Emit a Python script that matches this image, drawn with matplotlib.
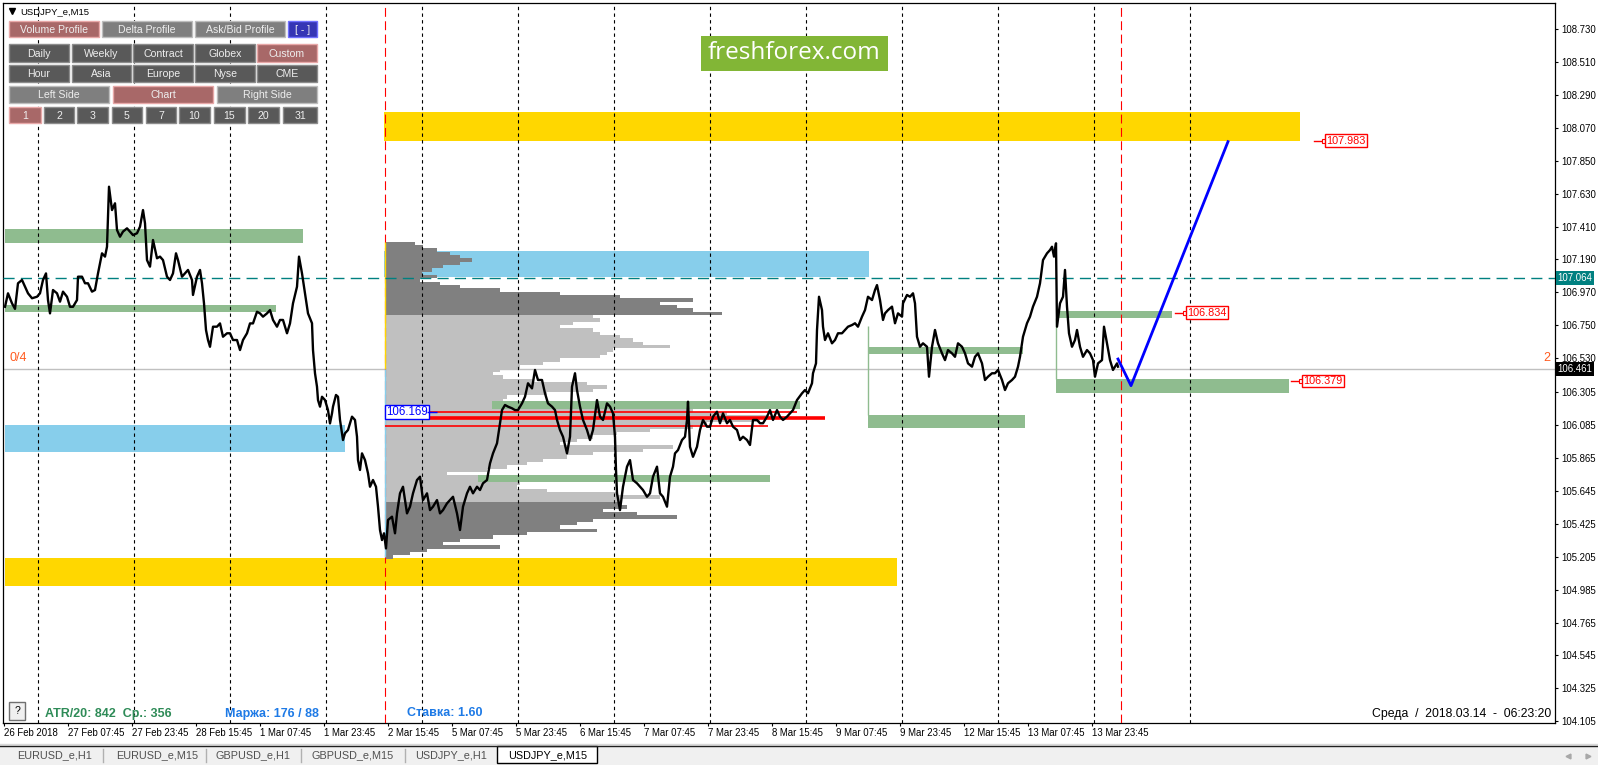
import numpy as np
import matplotlib.pyplot as plt
from matplotlib.patches import Rectangle

plt.rcParams['font.family'] = ['Liberation Sans', 'DejaVu Sans']

# bar index: 0 = 26 Feb 15:45, one M15 bar per step
bars_a = [1, 4, 8, 11, 14, 18, 21, 24, 28, 33, 36, 39, 42, 44, 46, 49, 53, 56, 59, 63,
          66, 69, 73, 74, 78, 81, 84, 88, 91, 94, 98, 101, 103, 105, 108, 111, 113, 116, 119, 123,
          126, 129, 133, 136, 139, 141, 143, 146, 149, 153, 156, 159, 163, 166, 169, 172, 174, 178, 181, 184,
          188, 189, 193, 196, 198, 200, 202, 204, 206, 209, 213, 216, 219, 223, 226, 229, 233, 236, 239, 243,
          246, 249, 253, 256, 259, 263, 266, 269, 273, 276, 279, 283, 286, 289, 293, 295, 298, 301, 304]
price_a = [106.874, 106.964, 106.897, 106.860, 107.031, 107.053, 107.008, 106.964, 106.931, 106.941,
           106.964, 107.053, 107.097, 106.919, 106.830, 106.986, 106.964, 106.908, 106.975, 106.941,
           106.874, 106.874, 106.919, 107.075, 107.075, 107.031, 107.031, 106.975, 106.986, 107.097,
           107.231, 107.209, 107.275, 107.676, 107.520, 107.565, 107.387, 107.342, 107.376, 107.398,
           107.376, 107.353, 107.365, 107.409, 107.520, 107.432, 107.186, 107.142, 107.320, 107.198,
           107.209, 107.186, 107.075, 107.053, 107.097, 107.231, 107.186, 107.075, 107.097, 107.120,
           107.053, 106.953, 107.075, 107.120, 107.031, 106.897, 106.719, 106.652, 106.607, 106.741,
           106.741, 106.763, 106.674, 106.697, 106.697, 106.652, 106.652, 106.585, 106.652, 106.697,
           106.763, 106.763, 106.841, 106.830, 106.808, 106.830, 106.852, 106.786, 106.741, 106.786,
           106.786, 106.697, 106.763, 106.897, 107.008, 107.209, 107.097, 106.964, 106.830]

bars_b = [308, 309, 311, 313, 314, 316, 318, 321, 324, 326, 328, 329, 332, 334, 336, 339, 341, 344, 348, 351,
          353, 354, 356, 358, 361, 364, 366, 369, 372, 374, 376, 378, 380, 382, 384, 388, 391, 393, 396, 399,
          403, 406, 409, 413, 416, 419, 423, 426, 429, 433, 436, 439, 443, 446, 449, 453, 456, 459, 463, 466,
          469, 473, 476, 479, 483]
price_b = [106.764, 106.585, 106.430, 106.340, 106.251, 106.207, 106.273, 106.251, 106.184, 106.095,
           106.162, 106.207, 106.285, 106.273, 106.118, 105.984, 106.029, 106.051, 106.140, 106.118,
           106.006, 105.850, 105.784, 105.895, 105.850, 105.762, 105.672, 105.717, 105.672, 105.539,
           105.383, 105.316, 105.361, 105.260, 105.450, 105.472, 105.361, 105.494, 105.628, 105.672,
           105.494, 105.539, 105.628, 105.717, 105.739, 105.583, 105.628, 105.516, 105.539, 105.583,
           105.494, 105.516, 105.561, 105.583, 105.605, 105.494, 105.383, 105.539, 105.628, 105.672,
           105.628, 105.672, 105.650, 105.695, 105.717]

bars_c = [486, 489, 493, 495, 498, 501, 504, 508, 511, 514, 518, 521, 524, 528, 531, 534, 538, 541, 544, 548,
          551, 553, 556, 559, 563, 566, 568, 571, 573, 576, 579, 583, 586, 589, 593, 596, 599, 603, 606, 609,
          611, 612, 613, 616, 619, 623, 626, 629, 633, 636, 639, 643, 646, 649, 653, 656, 659, 663, 666, 669,
          671, 674, 678, 681, 683, 684, 686, 689, 693, 696, 699, 703, 706, 709, 713, 716, 719, 723, 726, 729,
          733, 736, 739, 743, 746, 749, 753, 756, 759, 763, 766, 769, 773, 776, 779, 783, 786, 789, 793]
price_c = [105.828, 105.895, 105.962, 106.051, 106.184, 106.218, 106.207, 106.196, 106.184, 106.184,
           106.229, 106.273, 106.363, 106.329, 106.452, 106.385, 106.385, 106.296, 106.229, 106.207,
           106.184, 106.118, 106.051, 106.006, 105.895, 106.006, 106.340, 106.430, 106.318, 106.207,
           106.118, 106.051, 105.984, 106.051, 106.251, 106.140, 106.118, 106.229, 106.207, 106.162,
           106.006, 105.784, 105.628, 105.516, 105.672, 105.806, 105.850, 105.717, 105.695, 105.672,
           105.650, 105.605, 105.628, 105.739, 105.806, 105.628, 105.605, 105.539, 105.739, 105.806,
           105.895, 105.917, 105.984, 106.006, 106.118, 106.240, 105.939, 105.872, 105.939, 106.051,
           106.118, 106.073, 106.073, 106.140, 106.173, 106.096, 106.162, 106.096, 106.118, 106.073,
           106.051, 105.984, 106.006, 105.984, 105.951, 106.118, 106.118, 106.096, 106.096, 106.140,
           106.184, 106.118, 106.184, 106.140, 106.118, 106.140, 106.162, 106.184, 106.251]

bars_d = [798, 801, 804, 808, 809, 812, 813, 815, 818, 819, 821, 824, 828, 831, 834, 838, 841, 844, 848, 851,
          854, 858, 861, 864, 868, 871, 873, 876, 879, 881, 884, 888, 891, 894, 898, 899, 903, 906, 909, 911,
          913, 916, 919, 923, 925, 928, 931, 934, 938, 941, 944, 948, 951, 954, 958, 961, 964, 968, 971, 974,
          978, 981, 984, 988, 991, 994, 998, 1001, 1004, 1008, 1011, 1014, 1016, 1019, 1023, 1026, 1029, 1033,
          1036, 1039, 1043, 1046, 1048, 1050, 1052, 1053, 1056, 1059, 1061, 1063, 1065, 1068, 1071, 1073, 1076,
          1079, 1083, 1086, 1089, 1091, 1094, 1098, 1100, 1103, 1106, 1109, 1113, 1114]
price_d = [106.296, 106.318, 106.296, 106.363, 106.430, 106.496, 106.719, 106.941, 106.852, 106.741,
           106.652, 106.697, 106.630, 106.652, 106.697, 106.697, 106.719, 106.741, 106.752, 106.764,
           106.741, 106.808, 106.852, 106.941, 106.919, 106.986, 107.019, 106.919, 106.786, 106.830,
           106.852, 106.875, 106.764, 106.830, 106.808, 106.897, 106.953, 106.941, 106.964, 106.897,
           106.674, 106.607, 106.630, 106.607, 106.407, 106.607, 106.719, 106.630, 106.563, 106.518,
           106.585, 106.563, 106.540, 106.630, 106.607, 106.563, 106.496, 106.474, 106.540, 106.563,
           106.496, 106.385, 106.407, 106.430, 106.430, 106.452, 106.385, 106.318, 106.363, 106.385,
           106.407, 106.474, 106.540, 106.674, 106.764, 106.808, 106.875, 106.941, 107.031, 107.186,
           107.231, 107.253, 107.275, 107.209, 107.298, 106.741, 106.897, 106.941, 107.120, 106.875,
           106.697, 106.607, 106.652, 106.719, 106.607, 106.540, 106.585, 106.563, 106.518, 106.407,
           106.496, 106.518, 106.741, 106.630, 106.518, 106.452, 106.496, 106.474]

forecast_bar = [1114, 1127, 1224]
forecast_price = [106.525, 106.347, 107.977]

# zones
yellow_start = [380, 1]
yellow_end = [1296, 893]
yellow_low = [107.983, 105.009]
yellow_high = [108.175, 105.193]

blue_start = [1, 380]
blue_end = [341, 865]
blue_low = [105.906, 107.075]
blue_high = [106.084, 107.247]

green_start = [1, 1, 488, 474, 864, 864, 1053, 1052]
green_end = [299, 272, 796, 766, 1019, 1021, 1168, 1285]
green_low = [107.302, 106.841, 106.189, 105.701, 106.559, 106.064, 106.801, 106.300]
green_high = [107.392, 106.886, 106.245, 105.750, 106.607, 106.151, 106.846, 106.392]
green_link_bar = [864, 1052]
green_link_top = [106.745, 106.801]
green_link_bottom = [106.151, 106.392]

level_values = [107.983, 106.834, 106.379]
level_label_bar = [1322, 1183, 1299]

# volume profile (custom range starting 2 Mar)
profile_start = 381
profile_top = 107.298
profile_step = 0.0223
profile_width = [30, 38, 52, 65, 75, 87, 75, 58, 47, 37,
                 52, 35, 55, 75, 115, 175, 235, 308, 275, 292,
                 308, 337, 208, 215, 188, 175, 208, 215, 235, 248,
                 258, 285, 228, 222, 215, 175, 158, 135, 115, 108,
                 118, 148, 202, 222, 208, 162, 122, 118, 155, 275,
                 308, 342, 382, 375, 322, 308, 265, 232, 208, 192,
                 175, 288, 258, 208, 182, 158, 142, 122, 102, 62,
                 95, 122, 135, 132, 162, 232, 275, 235, 235, 242,
                 218, 252, 292, 208, 192, 175, 212, 142, 108, 75,
                 58, 115, 42, 25, 8]
value_area = (105.572, 106.819)
red_levels = [106.169, 106.129, 106.076]
red_end = [793, 821, 764]
poc_label = 106.169

day_start_bar = [34, 130, 226, 322, 418, 514, 610, 706, 802, 898, 994, 1090, 1186]
session_bar = [381, 1117]

label_bars = [0, 64, 128, 192, 256, 320, 384, 448, 512, 576, 640, 704, 768, 832, 896, 960, 1024, 1088]
label_text = ['26 Feb 2018', '27 Feb 07:45', '27 Feb 23:45', '28 Feb 15:45', '1 Mar 07:45', '1 Mar 23:45',
              '2 Mar 15:45', '5 Mar 07:45', '5 Mar 23:45', '6 Mar 15:45', '7 Mar 07:45', '7 Mar 23:45',
              '8 Mar 15:45', '9 Mar 07:45', '9 Mar 23:45', '12 Mar 15:45', '13 Mar 07:45', '13 Mar 23:45']
price_ticks = [108.730, 108.510, 108.290, 108.070, 107.850, 107.630, 107.410, 107.190, 106.970, 106.750,
               106.530, 106.305, 106.085, 105.865, 105.645, 105.425, 105.205, 104.985, 104.765, 104.545,
               104.325, 104.105]
bid = 106.461
teal_level = 107.064

W, H = 1598, 765
fig = plt.figure(figsize=(W / 100, H / 100), dpi=100)
fig.patch.set_facecolor('white')
ax = fig.add_axes([3 / W, 1 - 722.7 / H, 1552 / W, 719.7 / H])
ax.set_xlim(-1, 1551)
ax.set_ylim(104.096, 108.903)

# zones
def zones(start, end, low, high, color, z):
    s, e, lo, hi = map(np.array, (start, end, low, high))
    ax.barh((lo + hi) / 2, e - s, left=s, height=hi - lo, color=color, lw=0, zorder=z)

zones(yellow_start, yellow_end, yellow_low, yellow_high, '#ffd700', 1)
zones(blue_start, blue_end, blue_low, blue_high, '#87ceeb', 1)

levels = profile_top - profile_step * np.arange(len(profile_width))
pcol = np.where((levels > value_area[0]) & (levels < value_area[1]), '#c0c0c0', '#808080')
ax.barh(levels, profile_width, left=profile_start, height=profile_step, color=pcol, lw=0, zorder=2)

zones(green_start, green_end, green_low, green_high, '#8fbc8f', 3)
ax.vlines(green_link_bar, green_link_bottom, green_link_top, color='#8fbc8f', lw=1, zorder=3)

for b in day_start_bar:
    ax.axvline(b, color='black', lw=0.8, dashes=(3, 3), zorder=4)
for b in session_bar:
    ax.axvline(b, color='red', lw=0.8, dashes=(8, 4), zorder=4)
ax.vlines(profile_start, bid, profile_top + 0.01, color='#ffd700', lw=1, zorder=4)
ax.vlines(profile_start, 105.2, bid, color='#87ceeb', lw=1, zorder=4)

ax.axhline(teal_level, color='#008080', lw=1, dashes=(8, 4.5), zorder=5)
ax.axhline(bid, color='#c0c0c0', lw=1, zorder=2.5)
for lvl, e, lw in zip(red_levels, red_end, [1.2, 2.6, 1.2]):
    ax.hlines(lvl, profile_start, e, color='red', lw=lw, zorder=5)

all_bars = bars_a + bars_b + bars_c + bars_d
all_price = price_a + price_b + price_c + price_d
ax.plot(all_bars, all_price, color='black', lw=1.7, zorder=6)
ax.plot(forecast_bar, forecast_price, color='#0000ff', lw=2, zorder=7)

# level labels
for v, lb in zip(level_values, level_label_bar):
    ax.plot([lb - 12, lb - 2], [v, v], color='red', lw=1, zorder=8)
    ax.plot(lb - 2, v, marker='s', ms=3, mfc='white', mec='red', mew=0.8, zorder=8)
    ax.text(lb, v, f'{v:.3f}', color='red', fontsize=7.8, va='center', ha='left', zorder=9,
            bbox=dict(boxstyle='square,pad=0.12', fc='white', ec='red', lw=1))
ax.text(profile_start + 1, poc_label + 0.004, f'{poc_label:.3f}', color='#0000ff', fontsize=8.3,
        va='center', ha='left', zorder=9,
        bbox=dict(boxstyle='square,pad=0.08', fc='white', ec='#0000ff', lw=1))
ax.hlines(poc_label + 0.003, profile_start + 42, profile_start + 52, color='#0000ff', lw=1, zorder=9)

ax.text(6, 106.534, '0/4', color='#ff5a1e', fontsize=9, va='center', ha='left', zorder=9)
ax.text(1539, 106.534, '2', color='#ff5a1e', fontsize=9, va='center', ha='left', zorder=9)

# axes
ax.yaxis.tick_right()
ax.set_yticks(price_ticks)
ax.set_yticklabels([f'{p:.3f}' for p in price_ticks])
ax.set_xticks(label_bars)
ax.set_xticklabels(label_text, ha='left')
ax.tick_params(axis='both', length=2.5, width=0.8, labelsize=6.9, color='black')
ax.tick_params(axis='y', pad=2)
ax.tick_params(axis='x', pad=1.5)
for s in ax.spines.values():
    s.set_linewidth(0.9)
    s.set_color('black')

ytr = ax.get_yaxis_transform()
ax.text(1.0016, teal_level, f'{teal_level:.3f}', transform=ytr, color='white', fontsize=6.9,
        va='center', ha='left', zorder=10, clip_on=False,
        bbox=dict(boxstyle='square,pad=0.2', fc='#008080', ec='none'))
ax.text(1.0016, bid, f'{bid:.3f}', transform=ytr, color='white', fontsize=6.9,
        va='center', ha='left', zorder=10, clip_on=False,
        bbox=dict(boxstyle='square,pad=0.2', fc='black', ec='none'))

# overlay in pixel space for the terminal widgets
ui = fig.add_axes([0, 0, 1, 1], zorder=5)
ui.set_xlim(0, W)
ui.set_ylim(H, 0)
ui.axis('off')

ui.plot(12, 11, marker='v', ms=4, color='black')
ui.text(20, 11.5, 'USDJPY_e,M15', fontsize=6.8, va='center', ha='left', color='black')

styles = {'pink': ('#a86868', '#e8a8a8'), 'gray': ('#7f7f7f', '#bdbdbd'),
          'dark': ('#595959', '#8c8c8c'), 'blue': ('#3535b5', '#7070ff')}
buttons = [
    (21, 37, [(9, 99, 'Volume Profile', 'pink'), (102, 192, 'Delta Profile', 'gray'),
              (195, 285, 'Ask/Bid Profile', 'gray'), (288, 317, '[ - ]', 'blue')]),
    (44, 62, [(9, 69, 'Daily', 'dark'), (72, 131, 'Weekly', 'dark'), (133, 193, 'Contract', 'dark'),
              (195, 255, 'Globex', 'dark'), (257, 317, 'Custom', 'pink')]),
    (65, 82, [(9, 69, 'Hour', 'dark'), (72, 131, 'Asia', 'dark'), (133, 193, 'Europe', 'dark'),
              (195, 255, 'Nyse', 'dark'), (257, 317, 'CME', 'dark')]),
    (86, 103, [(9, 109, 'Left Side', 'gray'), (113, 213, 'Chart', 'pink'), (217, 317, 'Right Side', 'gray')]),
    (107, 123, [(9, 41, '1', 'pink'), (44, 74, '2', 'dark'), (77, 108, '3', 'dark'), (112, 142, '5', 'dark'),
                (146, 176, '7', 'dark'), (179, 210, '10', 'dark'), (214, 245, '15', 'dark'),
                (248, 279, '20', 'dark'), (283, 317, '31', 'dark')]),
]
for y0, y1, row in buttons:
    for x0, x1, txt, kind in row:
        fc, ec = styles[kind]
        ui.add_patch(Rectangle((x0, y0), x1 - x0, y1 - y0, fc=fc, ec=ec, lw=1))
        ui.text((x0 + x1) / 2, (y0 + y1) / 2 + 0.5, txt, ha='center', va='center',
                color='#eeeeee', fontsize=7.6)

ui.add_patch(Rectangle((701, 36), 187, 35, fc='#82b636', ec='none'))
ui.text(794.5, 53, 'freshforex.com', color='white', fontsize=17.5, family='Open Sans',
        ha='center', va='center')

ui.add_patch(Rectangle((9, 702), 16, 18, fc='#f0f0f0', ec='#707070', lw=1))
ui.text(17, 711.5, '?', fontsize=7.5, ha='center', va='center', color='black')
ui.text(45, 713.5, 'ATR/20: 842  Ср.: 356', color='#2e8b57', fontsize=9, fontweight='bold',
        va='center', ha='left')
ui.text(225, 713.5, 'Маржа: 176 / 88', color='#1e7ae6', fontsize=9, fontweight='bold',
        va='center', ha='left')
ui.text(407, 713.5, 'Ставка: 1.60', color='#1e7ae6', fontsize=9, fontweight='bold',
        va='center', ha='left')
ui.text(1551, 713.5, 'Среда  /  2018.03.14  -  06:23:20', color='black', fontsize=8.8,
        va='center', ha='right')

# tab bar
ui.add_patch(Rectangle((0, 745), W, 20, fc='#f0f0f0', ec='none'))
ui.plot([0, W], [743.5, 743.5], color='#d8d8d8', lw=1)
ui.plot([0, W], [745.5, 745.5], color='#202020', lw=1)
ui.add_patch(Rectangle((497, 745.5), 100, 17, fc='white', ec='black', lw=1))
tabs = [(55, 'EURUSD_e,H1'), (157, 'EURUSD_e,M15'), (253, 'GBPUSD_e,H1'),
        (353, 'GBPUSD_e,M15'), (451, 'USDJPY_e,H1'), (548, 'USDJPY_e,M15')]
for x, t in tabs:
    ui.text(x, 755, t, fontsize=7.8, ha='center', va='center',
            color='black' if t == 'USDJPY_e,M15' else '#505050')
for x in [103, 206, 301, 405]:
    ui.plot([x, x], [749, 762], color='#b0b0b0', lw=1)
ui.plot(1568, 755.5, marker='<', ms=3.5, color='#a8a8a8')
ui.plot(1588, 755.5, marker='>', ms=3.5, color='#a8a8a8')

fig.savefig('out.png', dpi=100)
